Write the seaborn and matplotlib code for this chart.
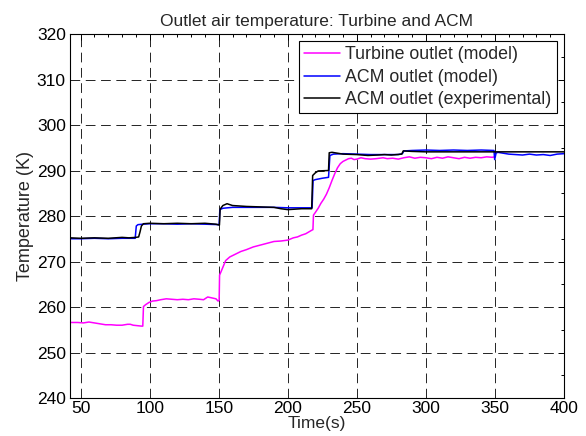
import matplotlib
matplotlib.use("Agg")
import matplotlib.pyplot as plt
import seaborn as sns
import pandas as pd
from matplotlib.ticker import MultipleLocator

# ---------------- data ----------------
turb_t = [42.3, 48, 52, 56, 60, 64, 68, 72, 76, 80, 84, 86, 88, 91, 94, 95,
          95.5, 97, 99.5, 102, 105, 108, 112, 116, 120, 124, 128, 132, 136, 139, 142, 145, 148, 149.5, 150.3,
          150.6, 152, 155, 158, 162, 166, 170, 175, 180, 185, 190, 195, 200, 204, 207, 210, 213, 217.5, 218.2,
          218.6, 220, 222, 224, 226, 228, 230, 232, 234, 236, 238, 240, 242, 244, 246, 248, 250, 253, 256,
          260, 264, 269, 272, 276, 280, 284, 288, 292, 296, 300, 304, 308, 312, 316, 320, 324, 328, 332,
          336, 340, 344, 348, 350]
turb_T = [256.6, 256.6, 256.5, 256.7, 256.5, 256.3, 256.1, 256.1, 256.0, 256.0, 256.2, 256.2, 256.0, 255.9, 255.8, 255.8,
          260.1, 260.5, 261.0, 261.3, 261.4, 261.6, 261.8, 261.7, 261.6, 261.7, 261.6, 261.8, 261.7, 261.6, 262.2, 262.0, 261.8, 261.3, 261.5,
          267.0, 268.0, 270.2, 271.0, 271.6, 272.2, 272.6, 273.2, 273.6, 274.0, 274.4, 274.5, 274.7, 275.2, 275.4, 275.8, 276.1, 276.9, 277.0,
          280.2, 280.8, 281.7, 282.8, 283.7, 284.8, 286.2, 287.8, 289.3, 290.6, 291.5, 292.0, 292.3, 292.6, 292.7, 292.4, 292.5, 292.8, 292.6,
          292.5, 292.6, 292.8, 292.6, 292.7, 292.5, 292.8, 293.0, 292.7, 292.9, 292.8, 292.6, 292.9, 292.7, 293.0, 292.8, 292.6, 292.9, 292.7,
          292.9, 292.8, 293.0, 292.9, 293.0]

acm_t = [42.3, 50, 60, 70, 80, 89.5, 90.3, 91.5, 95, 100, 110, 120, 130, 140, 150.3,
         150.8, 153, 160, 170, 180, 190, 200, 210, 217.6, 218.3, 220, 225, 229.5,
         230.5, 233, 240, 250, 260, 270, 280, 283, 284, 290, 300, 310, 320, 330, 340, 349.3,
         349.8, 350.8, 352, 356, 360, 365, 370, 375, 380, 385, 390, 395, 400]
acm_T = [275.0, 275.0, 275.1, 275.0, 275.1, 275.1, 277.8, 278.1, 278.2, 278.3, 278.3, 278.2, 278.3, 278.2, 278.1,
         281.4, 281.7, 281.9, 281.9, 281.9, 281.9, 281.8, 281.8, 281.8, 287.8, 288.0, 288.3, 288.5,
         293.3, 293.6, 293.7, 293.6, 293.5, 293.5, 293.5, 293.7, 294.3, 294.4, 294.5, 294.4, 294.5, 294.4, 294.5, 294.4,
         292.4, 293.8, 294.0, 293.8, 293.6, 293.5, 293.4, 293.6, 293.4, 293.5, 293.3, 293.6, 293.7]

exp_t = [42.3, 50, 60, 70, 80, 85, 90, 92, 93, 94, 95.5, 100, 110, 120, 130, 140, 148, 150.5,
         151, 153, 156, 160, 170, 180, 190, 195, 200, 205, 210, 217.3,
         218, 220, 222, 229.5, 230, 232, 236, 240, 250, 258, 265, 270, 275, 282.5,
         283.6, 290, 300, 320, 340, 350, 360, 380, 400]
exp_T = [275.2, 275.1, 275.2, 275.1, 275.3, 275.2, 275.3, 275.4, 276.5, 277.8, 278.3, 278.4, 278.3, 278.4, 278.3, 278.4, 278.2, 278.0,
         281.5, 282.3, 282.7, 282.3, 282.1, 282.0, 281.9, 281.6, 281.4, 281.5, 281.6, 281.6,
         288.9, 289.5, 289.9, 290.0, 293.9, 294.0, 293.8, 293.6, 293.5, 293.3, 293.4, 293.5, 293.4, 293.6,
         294.3, 294.2, 294.1, 294.1, 294.1, 294.1, 294.1, 294.1, 294.1]

series_names = ["Turbine outlet (model)", "ACM outlet (model)", "ACM outlet (experimental)"]
series_colors = ["#ff00ff", "#0000ff", "#000000"]
x_ticks = [50, 100, 150, 200, 250, 300, 350, 400]
y_ticks = [240, 250, 260, 270, 280, 290, 300, 310, 320]

title_text = "Outlet air temperature: Turbine and ACM"
x_label = "Time(s)"
y_label = "Temperature (K)"

# ---------------- build frame ----------------
frames = []
for name, t, T in zip(series_names, [turb_t, acm_t, exp_t], [turb_T, acm_T, exp_T]):
    frames.append(pd.DataFrame({"t": t, "T": T, "series": name}))
df = pd.concat(frames, ignore_index=True)

# ---------------- plot ----------------
sns.set_style("white")
plt.rcParams["font.family"] = ["Liberation Sans", "DejaVu Sans"]
plt.rcParams["lines.scale_dashes"] = False

fig = plt.figure(figsize=(5.86, 4.36), dpi=100)
ax = fig.add_axes([70 / 586, 1 - 398 / 436, (564 - 70) / 586, (398 - 34) / 436])

sns.lineplot(data=df, x="t", y="T", hue="series", hue_order=series_names,
             palette=dict(zip(series_names, series_colors)), estimator=None,
             sort=False, linewidth=1.1, ax=ax)

ax.set_xlim(42.3, 400)
ax.set_ylim(240, 320)
ax.set_xticks(x_ticks)
ax.set_yticks(y_ticks)
ax.xaxis.set_minor_locator(MultipleLocator(10))
ax.yaxis.set_minor_locator(MultipleLocator(5))
ax.tick_params(which="both", direction="in", top=True, right=True, colors="black",
               labelsize=12.5, width=0.7)
ax.tick_params(which="major", length=4)
ax.tick_params(which="minor", length=2)
ax.tick_params(axis="x", pad=2)
ax.tick_params(axis="y", pad=3)
for s in ax.spines.values():
    s.set_color("black")
    s.set_linewidth(0.8)

ax.grid(True, which="major", color="black", linewidth=0.6, linestyle=(0, (7, 4)))

ax.set_title(title_text, fontsize=12.5, pad=6)
ax.set_xlabel(x_label, fontsize=12.5, labelpad=0)
ax.set_ylabel(y_label, fontsize=13, labelpad=2)

leg = ax.legend(loc="upper right", fontsize=12.8, frameon=True, fancybox=False,
                edgecolor="black", framealpha=1, borderaxespad=0.4,
                handlelength=2.0, handletextpad=0.3, labelspacing=0.3, borderpad=0.3)
leg.get_frame().set_linewidth(0.8)
for line in leg.get_lines():
    line.set_linewidth(1.1)

fig.savefig("out.png", dpi=100)
